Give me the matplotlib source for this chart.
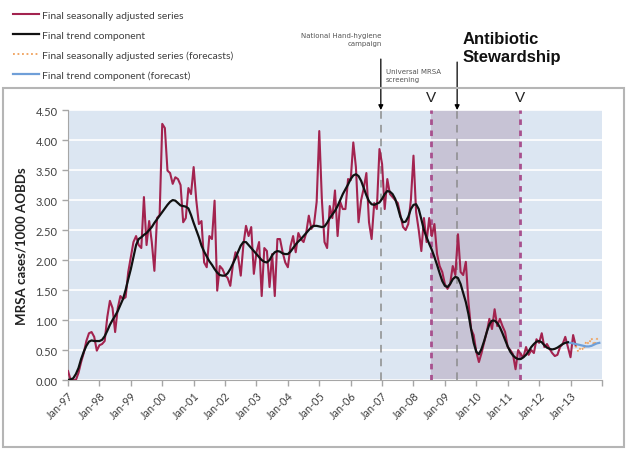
import numpy as np
import matplotlib
matplotlib.use("Agg")
import matplotlib.pyplot as plt
from matplotlib.patches import Rectangle

# Monthly seasonally adjusted MRSA rate, Jan-1997 .. Mar-2013
sa_series = [
    0.15, 0.00, 0.00, 0.00, 0.12, 0.30, 0.45, 0.65, 0.78, 0.80, 0.72, 0.49,  # 1997
    0.58, 0.60, 0.65, 1.05, 1.32, 1.20, 0.80, 1.20, 1.40, 1.35, 1.38, 1.80,  # 1998
    2.05, 2.30, 2.40, 2.25, 2.20, 3.05, 2.25, 2.65, 2.30, 1.82, 2.70, 2.75,  # 1999
    4.27, 4.20, 3.49, 3.45, 3.27, 3.38, 3.35, 3.25, 2.63, 2.70, 3.20, 3.10,  # 2000
    3.55, 3.00, 2.60, 2.65, 1.96, 1.88, 2.40, 2.35, 2.99, 1.49, 1.90, 1.85,  # 2001
    1.75, 1.70, 1.57, 1.92, 2.13, 2.05, 1.74, 2.25, 2.57, 2.40, 2.55, 1.77,  # 2002
    2.13, 2.30, 1.40, 2.20, 2.15, 1.55, 2.10, 1.40, 2.35, 2.35, 2.13, 1.96,  # 2003
    1.88, 2.23, 2.40, 2.13, 2.45, 2.35, 2.30, 2.45, 2.74, 2.52, 2.60, 2.97,  # 2004
    4.15, 3.00, 2.30, 2.20, 2.90, 2.70, 3.16, 2.40, 2.97, 2.85, 2.85, 3.35,  # 2005
    3.33, 3.96, 3.55, 2.63, 3.00, 3.20, 3.45, 2.63, 2.35, 2.95, 2.85, 3.85,  # 2006
    3.60, 2.85, 3.35, 3.10, 3.05, 3.00, 2.95, 2.75, 2.55, 2.50, 2.60, 3.00,  # 2007
    3.74, 2.80, 2.50, 2.15, 2.70, 2.30, 2.70, 2.40, 2.60, 2.10, 1.90, 1.80,  # 2008
    1.60, 1.52, 1.60, 1.90, 1.75, 2.43, 1.80, 1.75, 1.97, 1.30, 0.85, 0.75,  # 2009
    0.47, 0.30, 0.45, 0.63, 0.80, 1.02, 0.85, 1.18, 0.90, 1.02, 0.90, 0.80,  # 2010
    0.55, 0.50, 0.43, 0.18, 0.50, 0.43, 0.38, 0.55, 0.42, 0.50, 0.45, 0.68,  # 2011
    0.62, 0.78, 0.55, 0.60, 0.52, 0.45, 0.40, 0.42, 0.55, 0.60, 0.72, 0.55,  # 2012
    0.38, 0.75, 0.57,                                                      # 2013
]

# Monthly trend component, Jan-1997 .. Dec-2012
trend_series = [
    0.00, 0.01, 0.03, 0.10, 0.20, 0.35, 0.47, 0.57, 0.64, 0.66, 0.65, 0.65,
    0.65, 0.67, 0.73, 0.82, 0.92, 1.00, 1.07, 1.15, 1.25, 1.35, 1.50, 1.68,
    1.85, 2.05, 2.25, 2.35, 2.38, 2.42, 2.45, 2.50, 2.55, 2.62, 2.68, 2.74,
    2.80, 2.86, 2.92, 2.97, 3.00, 2.99, 2.95, 2.91, 2.90, 2.89, 2.86, 2.75,
    2.62, 2.50, 2.38, 2.24, 2.14, 2.06, 1.98, 1.92, 1.85, 1.79, 1.75, 1.74,
    1.74, 1.78, 1.85, 1.94, 2.03, 2.14, 2.24, 2.30, 2.30, 2.25, 2.20, 2.15,
    2.10, 2.05, 2.00, 1.97, 1.96, 2.00, 2.08, 2.13, 2.15, 2.14, 2.11, 2.10,
    2.10, 2.14, 2.20, 2.26, 2.31, 2.35, 2.40, 2.45, 2.50, 2.55, 2.57, 2.57,
    2.56, 2.55, 2.56, 2.62, 2.70, 2.76, 2.82, 2.90, 3.00, 3.10, 3.18, 3.26,
    3.35, 3.41, 3.43, 3.40, 3.32, 3.20, 3.08, 2.98, 2.93, 2.92, 2.94, 2.96,
    3.02, 3.10, 3.15, 3.14, 3.10, 3.02, 2.88, 2.72, 2.63, 2.64, 2.72, 2.85,
    2.92, 2.93, 2.85, 2.68, 2.50, 2.38, 2.27, 2.17, 2.05, 1.92, 1.78, 1.65,
    1.57, 1.55, 1.60, 1.68, 1.72, 1.70, 1.60, 1.45, 1.30, 1.10, 0.85, 0.62,
    0.47, 0.43, 0.52, 0.65, 0.80, 0.93, 0.99, 0.99, 0.95, 0.88, 0.78, 0.67,
    0.56, 0.47, 0.41, 0.37, 0.35, 0.35, 0.38, 0.42, 0.48, 0.55, 0.60, 0.64,
    0.65, 0.63, 0.58, 0.54, 0.52, 0.51, 0.52, 0.54, 0.57, 0.60, 0.62, 0.63,
]

# Forecasts: seasonally adjusted Mar-2013 .. Dec-2013, trend Dec-2012 .. Dec-2013
sa_forecast = [0.57, 0.47, 0.55, 0.50, 0.65, 0.60, 0.70, 0.58, 0.68, 0.72]
trend_forecast = [0.63, 0.62, 0.61, 0.60, 0.59, 0.58, 0.57, 0.56, 0.56, 0.57,
                  0.59, 0.61, 0.62]

start_year = 1997
tick_years = list(range(1997, 2015))
tick_labels = [f"Jan-{y % 100:02d}" for y in range(1997, 2014)] + [""]

# Intervention dates (decimal years)
hand_hygiene = 2006.96
screening_start = 2009.39
stewardship_start = 2008.57
stewardship_end = 2011.38

RED = "#a3234f"
BG = "#dce6f2"
GREY_TXT = "#404040"

def months(n, offset=0):
    return start_year + (np.arange(n) + offset) / 12.0

fig = plt.figure(figsize=(6.27, 4.52), dpi=100)
fig.patch.set_facecolor("white")

# outer frame around the chart block
fig.add_artist(Rectangle((0.004, 0.009), 0.992, 0.794, transform=fig.transFigure,
                         fill=False, edgecolor="#b5b5b5", linewidth=1.5))

ax = fig.add_axes([0.1085, 0.157, 0.8515, 0.5973])
ax.set_facecolor(BG)
ax.set_xlim(1997, 2014)
ax.set_ylim(0, 4.5)

ax.set_yticks(np.arange(0, 4.51, 0.5))
ax.set_yticklabels([f"{v:.2f}" for v in np.arange(0, 4.51, 0.5)],
                   fontsize=8, color=GREY_TXT, family="Lato")
ax.yaxis.grid(True, color="white", linewidth=1.2)
ax.set_axisbelow(True)

ax.set_xticks(tick_years)
ax.set_xticklabels(tick_labels, rotation=45, ha="right", rotation_mode="anchor",
                   fontsize=7.8, color=GREY_TXT, family="Lato")
ax.tick_params(axis="both", length=4, color="#a6a6a6", width=1)
ax.tick_params(axis="x", pad=3)

for s in ["top", "right"]:
    ax.spines[s].set_visible(False)
for s in ["left", "bottom"]:
    ax.spines[s].set_color("#a6a6a6")

# stewardship period
ax.axvspan(stewardship_start, stewardship_end, color="#c7c3d5", zorder=0.5, lw=0)
for xv in (stewardship_start, stewardship_end):
    ax.axvline(xv, color="#a8508e", linewidth=2, linestyle=(0, (2, 2)), zorder=1)
for xv in (hand_hygiene, screening_start):
    ax.axvline(xv, color="#8c8c8c", linewidth=1.1, linestyle=(0, (5, 4)), zorder=1)

l_sa, = ax.plot(months(len(sa_series)), sa_series, color=RED, linewidth=1.5, zorder=3,
                label="Final seasonally adjusted series")
l_tr, = ax.plot(months(len(trend_series)), trend_series, color="#111111", linewidth=1.6,
                zorder=4, label="Final trend component")
l_saf, = ax.plot(months(len(sa_forecast), 194), sa_forecast, color="#f0a05a",
                 linewidth=1.3, linestyle=(0, (1, 1.5)), zorder=3,
                 label="Final seasonally adjusted series (forecasts)")
l_trf, = ax.plot(months(len(trend_forecast), 191), trend_forecast, color="#6f9fd8",
                 linewidth=1.6, zorder=3, label="Final trend component (forecast)")

ax.set_ylabel("MRSA cases/1000 AOBDs", fontsize=9.5, fontweight="bold",
              color="#202020", family="Lato", labelpad=6)

leg = fig.legend(handles=[l_sa, l_tr, l_saf, l_trf], loc="upper left",
                 bbox_to_anchor=(0.005, 0.995), frameon=False,
                 handlelength=2.5, handletextpad=0.35, labelspacing=1.0,
                 prop={"family": "Lato", "size": 7.5})
for t in leg.get_texts():
    t.set_color(GREY_TXT)

# annotations above the plot
ymax = 4.5
ax.annotate("", xy=(hand_hygiene, ymax), xytext=(hand_hygiene, 5.35),
            annotation_clip=False,
            arrowprops=dict(arrowstyle="-|>", color="black", lw=0.9,
                            mutation_scale=7, shrinkA=0, shrinkB=0))
ax.annotate("", xy=(screening_start, ymax), xytext=(screening_start, 5.3),
            annotation_clip=False,
            arrowprops=dict(arrowstyle="-|>", color="black", lw=0.9,
                            mutation_scale=7, shrinkA=0, shrinkB=0))
ax.text(hand_hygiene + 0.03, 5.68, "National Hand-hygiene\ncampaign", fontsize=5,
        color="#555555", ha="right", va="center", linespacing=1.4, clip_on=False)
ax.text(hand_hygiene + 0.15, 5.08, "Universal MRSA\nscreening", fontsize=5,
        color="#555555", ha="left", va="center", linespacing=1.4, clip_on=False)
ax.text(screening_start + 0.18, 5.55, "Antibiotic\nStewardship", fontsize=12,
        fontweight="bold", family="Liberation Sans", color="#111111",
        ha="left", va="center", linespacing=1.25, clip_on=False)
for xv in (stewardship_start, stewardship_end):
    ax.text(xv, 4.72, "V", fontsize=11, color="#222222", ha="center", va="center",
            family="Liberation Sans", clip_on=False)

fig.savefig("out.png", dpi=100, facecolor="white")
